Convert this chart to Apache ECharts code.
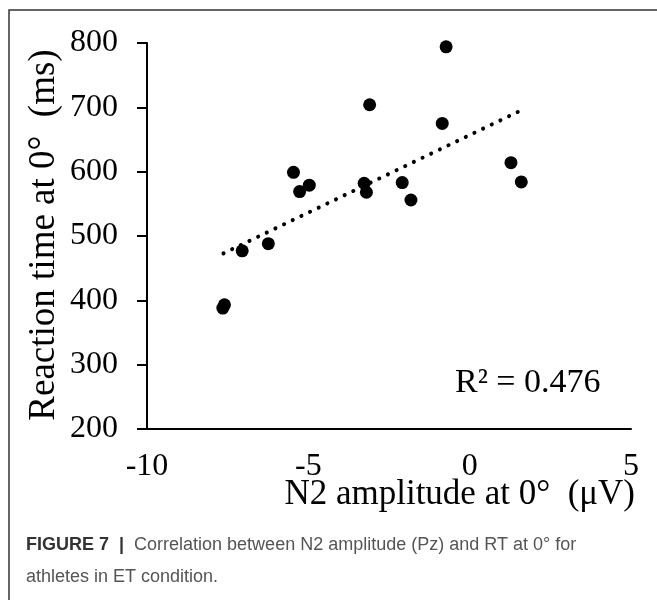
<!DOCTYPE html>
<html>
<head>
<meta charset="utf-8">
<script src="https://cdn.jsdelivr.net/npm/echarts@6/dist/echarts.min.js"></script>
<style>
html,body{margin:0;padding:0;background:#fff;}
#chart{width:657px;height:600px;}
</style>
</head>
<body>
<div id="chart"></div>
<script>
// N2 amplitude (µV) per athlete
var n2Amplitude = [-0.73, -3.10, -0.85, 1.28, 1.60, -2.09, -1.82, -3.27, -3.20, -5.46, -5.27, -4.97, -7.05, -6.24, -7.65, -7.60];
// Reaction time (ms) per athlete
var reactionTime = [794, 704, 675, 614, 584, 583, 556, 582, 568, 599, 569, 579, 477, 488, 388, 393];
// Linear trend line end points
var trendX = [-7.63, 1.50];
var trendY = [473, 693];
// Axis tick values
var yTicks = [200, 300, 400, 500, 600, 700, 800];
var xTicks = [-10, -5, 0, 5];
var r2Label = 'R² = 0.476';
var xTitle = 'N2 amplitude at 0°  (μV)';
var yTitle = 'Reaction time at 0°  (ms)';
var captionBold = 'FIGURE 7  |  ';
var captionLine1 = 'Correlation between N2 amplitude (Pz) and RT at 0° for';
var captionLine2 = 'athletes in ET condition.';

var points = n2Amplitude.map(function (x, i) { return [x, reactionTime[i]]; });
var trend = trendX.map(function (x, i) { return [x, trendY[i]]; });

var serif = '"Liberation Serif", "DejaVu Serif", serif';
var sans = '"Liberation Sans", Arial, sans-serif';

var chart = echarts.init(document.getElementById('chart'), null, {renderer: 'canvas'});
chart.setOption({
  animation: false,
  backgroundColor: '#fff',
  grid: {left: 147, top: 43, right: 26, bottom: 171, containLabel: false},
  xAxis: {
    type: 'value',
    min: xTicks[0], max: xTicks[xTicks.length - 1], interval: 5,
    axisLine: {show: true, onZero: false, lineStyle: {color: '#000', width: 2}},
    axisTick: {show: false},
    splitLine: {show: false},
    axisLabel: {color: '#000', fontFamily: serif, fontSize: 32, margin: 22,
      formatter: function (v) { return String(v).replace('−', '-'); }}
  },
  yAxis: {
    type: 'value',
    min: yTicks[0], max: yTicks[yTicks.length - 1], interval: 100,
    axisLine: {show: true, onZero: false, lineStyle: {color: '#000', width: 2}},
    axisTick: {show: true, inside: false, length: 10, lineStyle: {color: '#000', width: 2}},
    splitLine: {show: false},
    axisLabel: {color: '#000', fontFamily: serif, fontSize: 32, margin: 29}
  },
  series: [
    {
      type: 'line',
      data: trend,
      symbol: 'none',
      silent: true,
      lineStyle: {color: '#000', width: 4, type: [0.1, 9.5], cap: 'round'},
      z: 1
    },
    {
      type: 'scatter',
      data: points,
      symbol: 'circle',
      symbolSize: 13,
      itemStyle: {color: '#000', opacity: 1},
      z: 2
    }
  ],
  graphic: [
    {type: 'rect', shape: {x: 9, y: 10, width: 700, height: 700},
      style: {fill: 'none', stroke: '#333', lineWidth: 1.5}, silent: true},
    {type: 'text', left: 455, top: 366,
      style: {text: r2Label, font: '34px ' + serif, fill: '#000'}},
    {type: 'text', right: 22, top: 477,
      style: {text: xTitle, font: '35px ' + serif, fill: '#000'}},
    {type: 'text', x: 26, y: 235, rotation: Math.PI / 2,
      style: {text: yTitle, font: '37px ' + serif, fill: '#000', align: 'center', verticalAlign: 'top'}},
    {type: 'text', left: 26, top: 536,
      style: {
        text: '{b|' + captionBold + '}{n|' + captionLine1 + '}\n{n|' + captionLine2 + '}',
        rich: {
          b: {font: 'bold 18px ' + sans, fill: '#333', lineHeight: 32},
          n: {font: '18px ' + sans, fill: '#555', lineHeight: 32}
        }
      }}
  ]
});
</script>
</body>
</html>
